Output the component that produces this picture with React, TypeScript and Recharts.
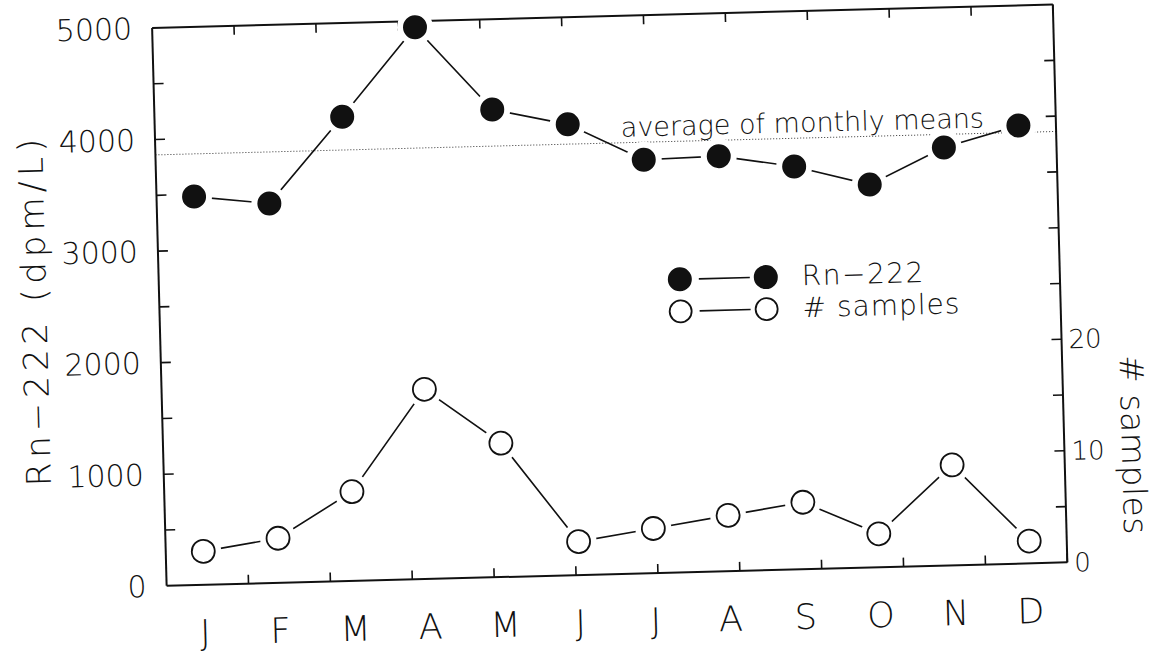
import { LineChart, Line, XAxis, YAxis, ReferenceLine, Legend } from 'recharts'

// ── Data ─────────────────────────────────────────────────
const MONTHS = ['Jan', 'Feb', 'Mar', 'Apr', 'May', 'Jun', 'Jul', 'Aug', 'Sep', 'Oct', 'Nov', 'Dec']
const MONTH_LABELS = ['J', 'F', 'M', 'A', 'M', 'J', 'J', 'A', 'S', 'O', 'N', 'D']

// monthly mean Rn-222 activity (dpm/L)
const RN222 = [3480, 3400, 4160, 4945, 4190, 4040, 3705, 3720, 3610, 3430, 3745, 3925]
// number of samples per month
const SAMPLES = [3, 4, 8, 17, 12, 3, 4, 5, 6, 3, 9, 2]

const RN_LABEL_TICKS = [0, 1000, 2000, 3000, 4000, 5000]
const RN_MINOR_TICKS = [500, 1000, 1500, 2000, 2500, 3000, 3500, 4000, 4500]
const N_LABEL_TICKS = [0, 10, 20]
const N_MINOR_TICKS = [5, 10, 15, 20, 25, 30, 35, 40, 45]
const MONTH_EDGES = [1, 2, 3, 4, 5, 6, 7, 8, 9, 10, 11]

const data = MONTHS.map((month, i) => ({ month, rn: RN222[i], n: SAMPLES[i] }))
const avgMonthly = RN222.reduce((a, b) => a + b, 0) / RN222.length

// ── Style ────────────────────────────────────────────────
const FONT = '"DejaVu Sans", sans-serif'
const WEIGHT = 200
const INK = '#111'
const FRAME = { stroke: INK, strokeWidth: 2 }
const TICK = { stroke: INK, strokeWidth: 1.6 }
const LEGEND_ORDER = ['rn', 'n']

// ── Pieces ───────────────────────────────────────────────
// frame axes only draw their tick marks, no text
const NoLabel = () => <g />

// marker with a white collar so the connecting line stops short of it
function Marker({ cx, cy, filled }: { cx?: number; cy?: number; filled: boolean }) {
  if (cx == null || cy == null) return null
  return (
    <g>
      <circle cx={cx} cy={cy} r={18} fill="#fff" />
      <circle
        cx={cx}
        cy={cy}
        r={filled ? 12 : 11.5}
        fill={filled ? INK : '#fff'}
        stroke={INK}
        strokeWidth={filled ? 0 : 1.8}
      />
    </g>
  )
}

function AxisTitle({
  viewBox,
  text,
  side,
}: {
  viewBox?: { x: number; y: number; width: number; height: number }
  text: string
  side: 'left' | 'right'
}) {
  if (!viewBox) return null
  const { x, y, width, height } = viewBox
  const cx = side === 'left' ? x + 35 : x + width - 27
  const cy = side === 'left' ? y + height / 2 : y + height * 0.793
  const angle = side === 'left' ? -90 : 90
  return (
    <text
      x={cx}
      y={cy}
      transform={`rotate(${angle} ${cx} ${cy})`}
      textAnchor="middle"
      dominantBaseline="central"
      fill={INK}
      fontFamily={FONT}
      fontWeight={WEIGHT}
      fontSize={side === 'left' ? 34 : 33}
      letterSpacing={side === 'left' ? 5 : 0.5}
    >
      {text}
    </text>
  )
}

function AvgLabel({ viewBox, text }: { viewBox?: { x: number; y: number }; text: string }) {
  if (!viewBox) return null
  return (
    <text
      x={viewBox.x + 466}
      y={viewBox.y - 6}
      textAnchor="start"
      fill={INK}
      fontFamily={FONT}
      fontWeight={WEIGHT}
      fontSize={27}
    >
      {text}
    </text>
  )
}

type LegendEntry = { value: string; dataKey?: string }
function LegendBox({ payload }: { payload?: LegendEntry[] }) {
  const rows = [...(payload ?? [])].sort(
    (a, b) => LEGEND_ORDER.indexOf(String(a.dataKey)) - LEGEND_ORDER.indexOf(String(b.dataKey)),
  )
  return (
    <div style={{ fontFamily: FONT, fontWeight: WEIGHT, fontSize: 28, color: INK }}>
      {rows.map((entry) => {
        const filled = entry.dataKey === 'rn'
        return (
          <div key={entry.value} style={{ display: 'flex', alignItems: 'center', height: 32 }}>
            <svg width={120} height={32}>
              <circle cx={16} cy={16} r={filled ? 12 : 11} fill={filled ? INK : '#fff'} stroke={INK} strokeWidth={filled ? 0 : 1.8} />
              <line x1={35} x2={86} y1={16} y2={16} stroke={INK} strokeWidth={1.6} />
              <circle cx={102} cy={16} r={filled ? 12 : 11} fill={filled ? INK : '#fff'} stroke={INK} strokeWidth={filled ? 0 : 1.8} />
            </svg>
            <span style={{ marginLeft: 18, letterSpacing: filled ? 1.5 : 1, lineHeight: '32px' }}>{entry.value}</span>
          </div>
        )
      })}
    </div>
  )
}

// ── Chart ────────────────────────────────────────────────
export default function App() {
  return (
    <div
      style={{
        position: 'absolute',
        left: 0,
        top: 0,
        width: 1157,
        height: 651,
        background: '#fff',
        transform: 'rotate(-1.49deg)',
        transformOrigin: '578.5px 325.5px',
      }}
    >
      <LineChart width={1157} height={651} data={data} margin={{ top: 17, right: 0, bottom: 0, left: 0 }}>
        {/* month letters, centred in each band */}
        <XAxis
          xAxisId="cat"
          dataKey="month"
          type="category"
          scale="band"
          height={76}
          axisLine={false}
          tickLine={false}
          tickSize={0}
          tickMargin={35}
          interval={0}
          tickFormatter={(_v: string, i: number) => MONTH_LABELS[i]}
          tick={{ fill: INK, fontSize: 35, fontFamily: FONT, fontWeight: WEIGHT }}
        />
        {/* frame: bottom and top edges with inward ticks between months */}
        <XAxis
          xAxisId="frameB"
          type="number"
          domain={[0, 12]}
          allowDataOverflow
          ticks={MONTH_EDGES}
          interval={0}
          orientation="bottom"
          mirror
          height={1}
          tick={NoLabel}
          tickSize={9}
          axisLine={FRAME}
          tickLine={TICK}
        />
        <XAxis
          xAxisId="frameT"
          type="number"
          domain={[0, 12]}
          allowDataOverflow
          ticks={MONTH_EDGES}
          interval={0}
          orientation="top"
          mirror
          height={1}
          tick={NoLabel}
          tickSize={9}
          axisLine={FRAME}
          tickLine={TICK}
        />

        <YAxis
          yAxisId="rn"
          domain={[0, 5000]}
          ticks={RN_LABEL_TICKS}
          interval={0}
          width={160}
          axisLine={false}
          tickLine={false}
          tickSize={0}
          tickMargin={20}
          tick={{ fill: INK, fontSize: 30, fontFamily: FONT, fontWeight: WEIGHT }}
          label={<AxisTitle side="left" text="Rn−222 (dpm/L)" />}
        />
        <YAxis
          yAxisId="rnFrame"
          domain={[0, 5000]}
          allowDataOverflow
          ticks={RN_MINOR_TICKS}
          interval={0}
          mirror
          width={1}
          tick={NoLabel}
          tickSize={10}
          axisLine={FRAME}
          tickLine={TICK}
        />
        <YAxis
          yAxisId="n"
          orientation="right"
          domain={[0, 50]}
          ticks={N_LABEL_TICKS}
          interval={0}
          width={96}
          axisLine={false}
          tickLine={false}
          tickSize={0}
          tickMargin={7}
          tick={{ fill: INK, fontSize: 26, fontFamily: FONT, fontWeight: WEIGHT }}
          label={<AxisTitle side="right" text="# samples" />}
        />
        <YAxis
          yAxisId="nFrame"
          orientation="right"
          domain={[0, 50]}
          allowDataOverflow
          ticks={N_MINOR_TICKS}
          interval={0}
          mirror
          width={1}
          tick={NoLabel}
          tickSize={10}
          axisLine={FRAME}
          tickLine={TICK}
        />

        <ReferenceLine
          xAxisId="cat"
          yAxisId="rn"
          y={avgMonthly}
          stroke="#333"
          strokeWidth={1}
          strokeDasharray="1 2"
          label={<AvgLabel text="average of monthly means" />}
        />

        <Line
          xAxisId="cat"
          yAxisId="rn"
          dataKey="rn"
          name="Rn−222"
          stroke={INK}
          strokeWidth={1.6}
          dot={(p: any) => <Marker key={`rn-${p.index}`} cx={p.cx} cy={p.cy} filled />}
          activeDot={false}
          isAnimationActive={false}
        />
        <Line
          xAxisId="cat"
          yAxisId="n"
          dataKey="n"
          name="# samples"
          stroke={INK}
          strokeWidth={1.6}
          dot={(p: any) => <Marker key={`n-${p.index}`} cx={p.cx} cy={p.cy} filled={false} />}
          activeDot={false}
          isAnimationActive={false}
        />

        <Legend
          layout="horizontal"
          align="center"
          verticalAlign="middle"
          content={<LegendBox />}
          wrapperStyle={{ left: 665, top: 266, width: 'auto' }}
        />
      </LineChart>
    </div>
  )
}
